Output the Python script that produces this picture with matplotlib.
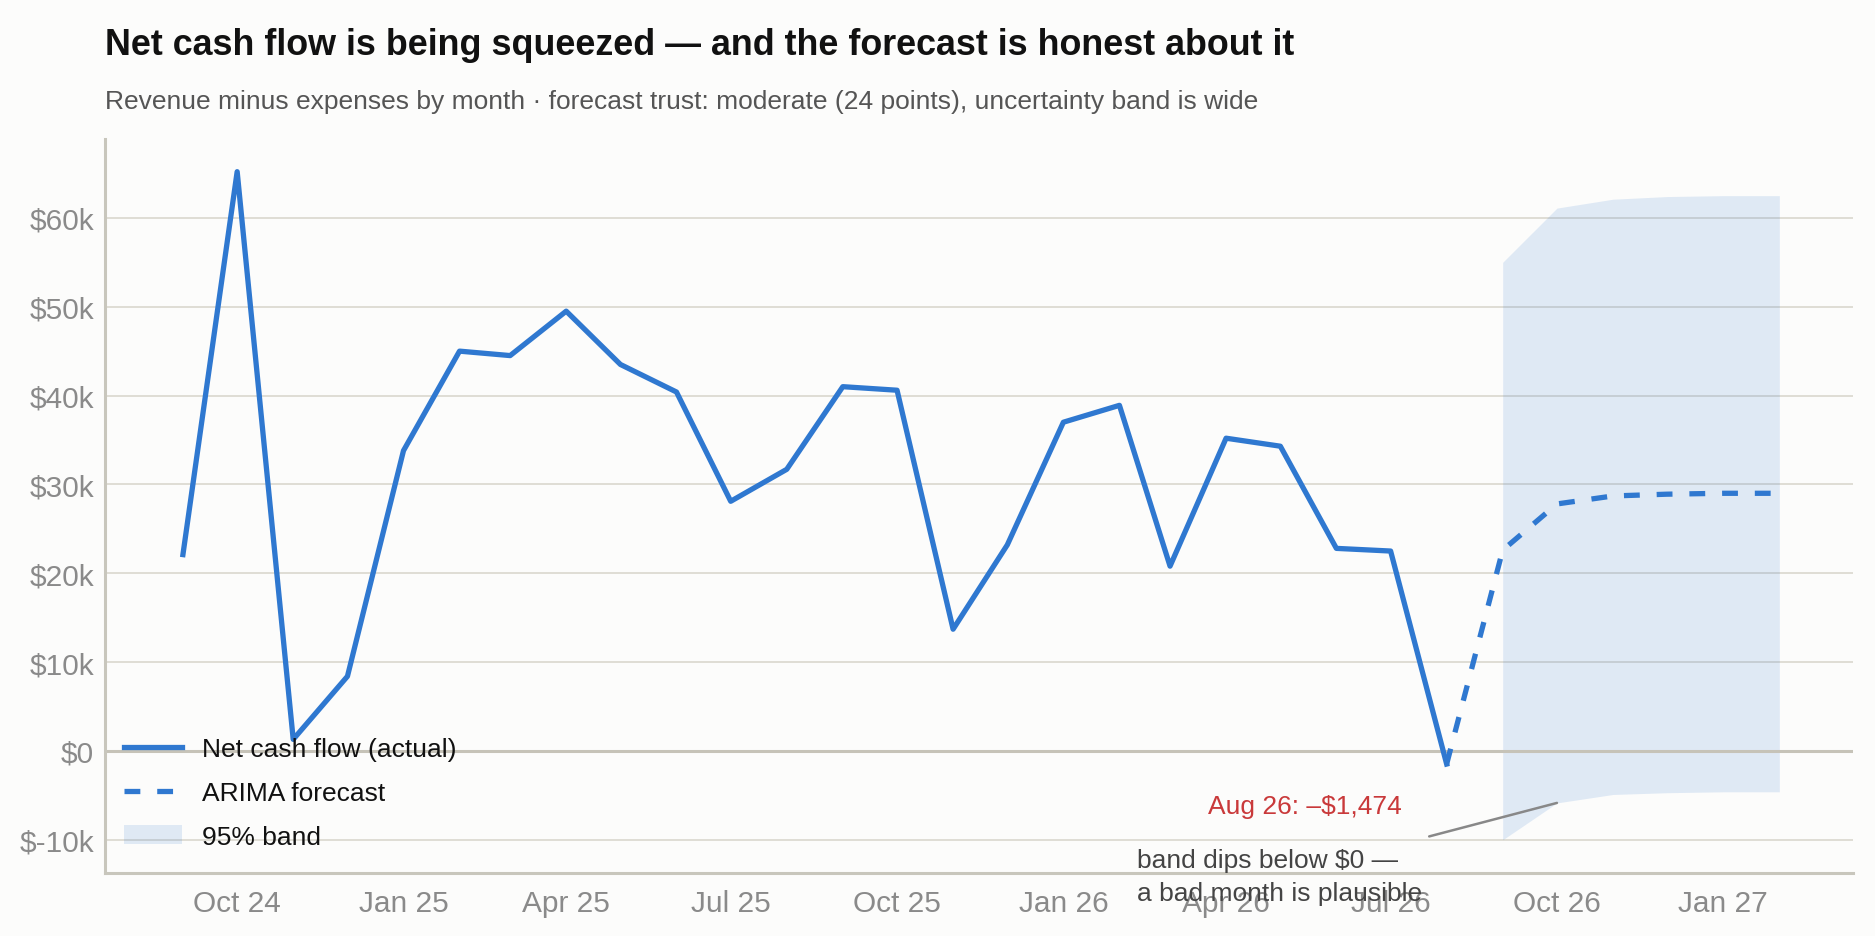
import matplotlib
matplotlib.use("Agg")
import matplotlib.pyplot as plt
import matplotlib.dates as mdates
from matplotlib.patches import Patch
from matplotlib.lines import Line2D
from matplotlib.ticker import FuncFormatter
import pandas as pd

# ---------------- data ----------------
actual_months = ["2024-09", "2024-10", "2024-11", "2024-12", "2025-01", "2025-02",
                 "2025-03", "2025-04", "2025-05", "2025-06", "2025-07", "2025-08",
                 "2025-09", "2025-10", "2025-11", "2025-12", "2026-01", "2026-02",
                 "2026-03", "2026-04", "2026-05", "2026-06", "2026-07", "2026-08"]
actual_net = [22100, 65200, 1300, 8400, 33800, 45000, 44500, 49500, 43500, 40400,
              28100, 31700, 41000, 40600, 13700, 23200, 37000, 38900, 20800, 35200,
              34300, 22800, 22500, -1474]

forecast_months = ["2026-09", "2026-10", "2026-11", "2026-12", "2027-01", "2027-02"]
forecast_net = [22600, 27800, 28700, 28900, 29000, 29000]
band_lower = [-10000, -5850, -4900, -4700, -4600, -4600]
band_upper = [55000, 61100, 62100, 62400, 62500, 62500]

y_ticks = [-10000, 0, 10000, 20000, 30000, 40000, 50000, 60000]

title = "Net cash flow is being squeezed \u2014 and the forecast is honest about it"
subtitle = ("Revenue minus expenses by month \u00b7 forecast trust: moderate (24 points), "
            "uncertainty band is wide")
low_label = "Aug 26: \u2013$1,474"
band_note = "band dips below $0 \u2014\na bad month is plausible"

# ---------------- style ----------------
BLUE = "#2f78d0"
BG = "#fcfcfb"
LW = 3.8
DASH = (0, (3, 3.2))
plt.rcParams["font.family"] = ["Liberation Sans", "DejaVu Sans"]

x_act = pd.to_datetime(actual_months)
x_fc = pd.to_datetime(forecast_months)

fig = plt.figure(figsize=(18.75, 9.37), dpi=100, facecolor=BG)
ax = fig.add_axes([0.0561, 0.0676, 0.9324, 0.7832], facecolor=BG)

# band
ax.fill_between(x_fc, band_lower, band_upper, color=BLUE, alpha=0.14, linewidth=0, zorder=1)

# grid & zero line
for v in y_ticks:
    if v == 0:
        ax.axhline(v, color="#c6c3b8", lw=2.2, zorder=2)
    else:
        ax.axhline(v, color="#dcdad2", lw=1.3, zorder=0.5)

# actual line
ax.plot(x_act, actual_net, color=BLUE, lw=LW, zorder=4)
# forecast line (connects from last actual)
fx = [x_act[-1]] + list(x_fc)
fy = [actual_net[-1]] + forecast_net
ax.plot(fx, fy, color=BLUE, lw=LW, ls=DASH, zorder=4)

ax.set_xlim(pd.Timestamp("2024-07-20"), pd.Timestamp("2027-03-14"))
ax.set_ylim(-13700, 68900)

ax.set_yticks(y_ticks)
ax.yaxis.set_major_formatter(FuncFormatter(
    lambda v, p: "$0" if v == 0 else f"${v/1000:.0f}k"))
ax.xaxis.set_major_locator(mdates.MonthLocator(bymonth=[1, 4, 7, 10]))
ax.xaxis.set_major_formatter(mdates.DateFormatter("%b %y"))
ax.tick_params(axis="both", length=0, labelsize=21.5, colors="#8a8a8a")
ax.tick_params(axis="x", pad=12)
ax.tick_params(axis="y", pad=8)

for s in ["top", "right"]:
    ax.spines[s].set_visible(False)
for s in ["left", "bottom"]:
    ax.spines[s].set_color("#c8c6bc")
    ax.spines[s].set_linewidth(2.2)

# annotations
ax.annotate(low_label, xy=(x_act[-1], actual_net[-1]), xytext=(-45, -42),
            textcoords="offset pixels", ha="right", va="center",
            color="#c9393a", fontsize=19, zorder=6)
ax.annotate(band_note, xy=(x_fc[1], band_lower[1]), xytext=(-420, -45),
            textcoords="offset pixels", ha="left", va="top",
            multialignment="left",
            color="#444444", fontsize=19, linespacing=1.5,
            arrowprops=dict(arrowstyle="-", color="#888888", lw=1.8,
                            relpos=(1.025, 1.2), shrinkA=0, shrinkB=0),
            zorder=6)

# legend
handles = [Line2D([0], [0], color=BLUE, lw=LW),
           Line2D([0], [0], color=BLUE, lw=LW, ls=DASH),
           Patch(facecolor=BLUE, alpha=0.14, edgecolor="none")]
labels = ["Net cash flow (actual)", "ARIMA forecast", "95% band"]
ax.legend(handles, labels, loc="lower left", bbox_to_anchor=(-0.003, 0.0),
          frameon=False, fontsize=19,
          handlelength=2.2, handletextpad=0.75, labelspacing=0.75,
          borderaxespad=0.5, labelcolor="#111111")

fig.text(0.0561, 0.951, title, fontsize=25.8, fontweight="bold", color="#111111",
         ha="left", va="center")
fig.text(0.0561, 0.891, subtitle, fontsize=19, color="#555555",
         ha="left", va="center")

fig.savefig("out.png", dpi=100, facecolor=BG)
